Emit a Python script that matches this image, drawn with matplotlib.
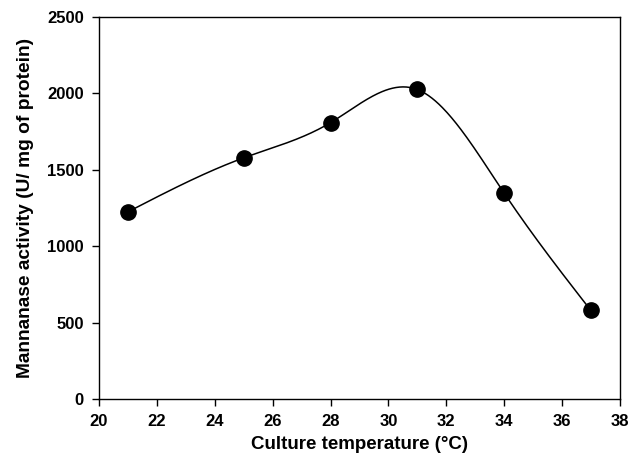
import numpy as np
import matplotlib
matplotlib.use("Agg")
import matplotlib.pyplot as plt

temperature = [21, 25, 28, 31, 34, 37]
activity = [1225, 1578, 1808, 2025, 1348, 580]

x_ticks = [20, 22, 24, 26, 28, 30, 32, 34, 36, 38]
y_ticks = [0, 500, 1000, 1500, 2000, 2500]


def natural_spline(x, y, xs):
    x = np.asarray(x, float)
    y = np.asarray(y, float)
    n = len(x)
    h = np.diff(x)
    A = np.zeros((n, n))
    b = np.zeros(n)
    A[0, 0] = 1
    A[-1, -1] = 1
    for i in range(1, n - 1):
        A[i, i - 1] = h[i - 1]
        A[i, i] = 2 * (h[i - 1] + h[i])
        A[i, i + 1] = h[i]
        b[i] = 6 * ((y[i + 1] - y[i]) / h[i] - (y[i] - y[i - 1]) / h[i - 1])
    m = np.linalg.solve(A, b)
    out = np.empty_like(xs)
    for k, xv in enumerate(xs):
        i = min(max(np.searchsorted(x, xv) - 1, 0), n - 2)
        t = xv - x[i]
        hi = h[i]
        a = (m[i + 1] - m[i]) / (6 * hi)
        bb = m[i] / 2
        c = (y[i + 1] - y[i]) / hi - hi * (2 * m[i] + m[i + 1]) / 6
        out[k] = y[i] + c * t + bb * t ** 2 + a * t ** 3
    return out


plt.rcParams["font.family"] = ["Liberation Sans", "DejaVu Sans"]
plt.rcParams["font.weight"] = "bold"

fig = plt.figure(figsize=(6.43, 4.68), dpi=100)
ax = fig.add_axes([0.154, 0.147, 0.81, 0.817])

xs = np.linspace(temperature[0], temperature[-1], 400)
ax.plot(xs, natural_spline(temperature, activity, xs), color="black", lw=1.1)
ax.plot(temperature, activity, "o", color="black", markersize=11)

ax.set_xlim(20, 38)
ax.set_ylim(0, 2500)
ax.set_xticks(x_ticks)
ax.set_yticks(y_ticks)
ax.tick_params(direction="out", length=5, width=1, labelsize=12, pad=6)
for lab in ax.get_xticklabels() + ax.get_yticklabels():
    lab.set_fontweight("bold")
for sp in ax.spines.values():
    sp.set_linewidth(1)

ax.set_xlabel("Culture temperature (\u00b0C)", fontsize=13.5, fontweight="bold", labelpad=5)
ax.set_ylabel("Mannanase activity (U/ mg of protein)", fontsize=13.8, fontweight="bold", labelpad=9)

fig.savefig("out.png", dpi=100)
